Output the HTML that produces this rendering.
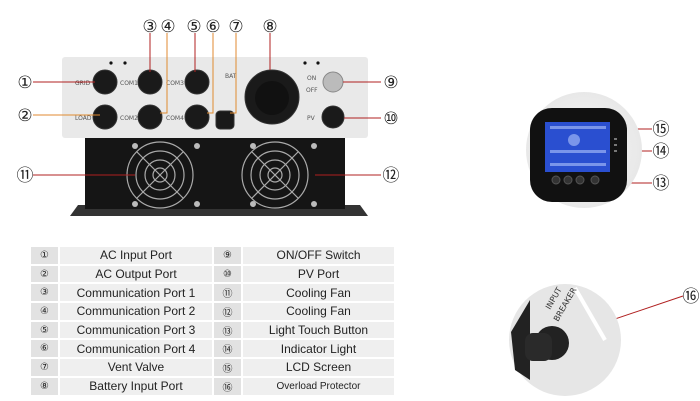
<!DOCTYPE html>
<html><head><meta charset="utf-8"><style>
body{margin:0;background:#fff;width:700px;height:401px;overflow:hidden;font-family:"Liberation Sans","DejaVu Sans",sans-serif}
table{position:absolute;left:29px;top:245px;border-collapse:collapse;font-size:12px;color:#222}
td{border:2px solid #fff;height:16.7px;padding:0;text-align:center;background:#efefef}
td.n{background:#e2e2e2;width:27px;font-size:10px;font-family:"DejaVu Sans",sans-serif}
</style></head><body>
<svg width="700" height="401" style="position:absolute;left:0;top:0" font-family="DejaVu Sans,sans-serif">
<defs><radialGradient id="g1" cx="50%" cy="50%" r="50%"><stop offset="0" stop-color="#f7f7f7"/><stop offset="1" stop-color="#e8e8e8"/></radialGradient></defs>
<polygon points="70,216 368,216 360,205 78,205" fill="#333"/>
<rect x="85" y="137" width="260" height="72" fill="#151515"/>
<rect x="62" y="57" width="306" height="81" rx="3" fill="#e9e9e9"/>
<circle cx="111" cy="63" r="1.6" fill="#111"/><circle cx="125" cy="63" r="1.6" fill="#111"/>
<circle cx="305" cy="63" r="1.6" fill="#111"/><circle cx="318" cy="63" r="1.6" fill="#111"/>
<g fill="#1a1a1a" stroke="#333">
<circle cx="105" cy="82" r="12"/><circle cx="150" cy="82" r="12"/><circle cx="197" cy="82" r="12"/>
<circle cx="105" cy="117" r="12"/><circle cx="150" cy="117" r="12"/><circle cx="197" cy="117" r="12"/>
<circle cx="333" cy="117" r="11"/><rect x="216" y="111" width="18" height="18" rx="4"/>
<circle cx="272" cy="97" r="27"/></g>
<circle cx="272" cy="98" r="17" fill="#111"/>
<circle cx="333" cy="82" r="10" fill="#bbb" stroke="#888"/>
<g font-size="6" fill="#555"><text x="75" y="85">GRID</text><text x="120" y="85">COM1</text><text x="166" y="85">COM3</text>
<text x="75" y="120">LOAD</text><text x="120" y="120">COM2</text><text x="166" y="120">COM4</text><text x="225" y="78">BAT</text>
<text x="307" y="80">ON</text><text x="306" y="92">OFF</text><text x="307" y="120">PV</text></g>
<g stroke="#aaa" fill="none" stroke-width="1.2">
<circle cx="160" cy="175" r="33"/><circle cx="160" cy="175" r="24"/><circle cx="160" cy="175" r="15"/><circle cx="160" cy="175" r="7"/>
<line x1="137" y1="152" x2="183" y2="198"/><line x1="183" y1="152" x2="137" y2="198"/>
<circle cx="275" cy="175" r="33"/><circle cx="275" cy="175" r="24"/><circle cx="275" cy="175" r="15"/><circle cx="275" cy="175" r="7"/>
<line x1="252" y1="152" x2="298" y2="198"/><line x1="298" y1="152" x2="252" y2="198"/></g>
<g fill="#bbb"><circle cx="135" cy="146" r="3"/><circle cx="197" cy="146" r="3"/><circle cx="135" cy="204" r="3"/><circle cx="197" cy="204" r="3"/>
<circle cx="253" cy="146" r="3"/><circle cx="314" cy="146" r="3"/><circle cx="253" cy="204" r="3"/><circle cx="314" cy="204" r="3"/></g>
<g stroke="#b02020" stroke-width="1" fill="none">
<line x1="33" y1="82" x2="95" y2="82"/><line x1="150" y1="33" x2="150" y2="72"/><line x1="195" y1="33" x2="195" y2="72"/>
<line x1="270" y1="33" x2="270" y2="70"/><line x1="381" y1="82" x2="343" y2="82"/><line x1="381" y1="118" x2="344" y2="118"/>
<line x1="33" y1="175" x2="135" y2="175"/><line x1="381" y1="175" x2="315" y2="175"/>
<line x1="652" y1="129" x2="602" y2="129"/><line x1="652" y1="151" x2="616" y2="151"/><line x1="652" y1="183" x2="598" y2="183"/>
<line x1="683" y1="296" x2="550" y2="341"/></g>
<g stroke="#e08a30" stroke-width="1" fill="none">
<polyline points="33,115 100,115"/><polyline points="167,33 167,113 160,113"/><polyline points="213,33 213,113 207,113"/><polyline points="236,33 236,113 230,113"/></g>
<g font-size="17" fill="#222" text-anchor="middle">
<text x="25" y="88">①</text><text x="25" y="121">②</text><text x="150" y="32">③</text><text x="168" y="32">④</text>
<text x="194" y="32">⑤</text><text x="213" y="32">⑥</text><text x="236" y="32">⑦</text><text x="270" y="32">⑧</text>
<text x="391" y="88">⑨</text><text x="391" y="124">⑩</text><text x="25" y="181">⑪</text><text x="391" y="181">⑫</text>
<text x="661" y="135">⑮</text><text x="661" y="157">⑭</text><text x="661" y="189">⑬</text><text x="691" y="302">⑯</text></g>
<circle cx="584" cy="150" r="58" fill="url(#g1)"/>
<rect x="530" y="108" width="97" height="94" rx="22" fill="#111"/>
<rect x="545" y="122" width="65" height="50" fill="#2a4fd0"/>
<g fill="#7a95ea"><rect x="550" y="126" width="56" height="3"/><rect x="550" y="150" width="56" height="3"/><rect x="550" y="163" width="56" height="3"/><circle cx="574" cy="140" r="6"/></g>
<g fill="#333" stroke="#555"><circle cx="556" cy="180" r="4"/><circle cx="568" cy="180" r="4"/><circle cx="580" cy="180" r="4"/><circle cx="595" cy="180" r="4"/></g>
<g fill="#777"><rect x="614" y="138" width="3" height="2"/><rect x="614" y="144" width="3" height="2"/><rect x="614" y="150" width="3" height="2"/></g>
<circle cx="565" cy="340" r="56" fill="#e6e6e6"/>
<path d="M511 332 L530 300 L530 380 L515 370 Z" fill="#222"/>
<line x1="575" y1="288" x2="605" y2="340" stroke="#fff" stroke-width="4"/>
<circle cx="552" cy="343" r="17" fill="#222"/>
<rect x="525" y="333" width="27" height="28" rx="8" fill="#2a2a2a"/>
<text x="550" y="310" font-size="8" fill="#333" transform="rotate(-60 550 310)">INPUT</text>
<text x="558" y="322" font-size="8" fill="#333" transform="rotate(-60 558 322)">BREAKER</text>
</svg>
<table>
<tr><td class="n">①</td><td style="width:152px">AC Input Port</td><td class="n">⑨</td><td style="width:151px">ON/OFF Switch</td></tr>
<tr><td class="n">②</td><td>AC Output Port</td><td class="n">⑩</td><td>PV Port</td></tr>
<tr><td class="n">③</td><td>Communication Port 1</td><td class="n">⑪</td><td>Cooling Fan</td></tr>
<tr><td class="n">④</td><td>Communication Port 2</td><td class="n">⑫</td><td>Cooling Fan</td></tr>
<tr><td class="n">⑤</td><td>Communication Port 3</td><td class="n">⑬</td><td>Light Touch Button</td></tr>
<tr><td class="n">⑥</td><td>Communication Port 4</td><td class="n">⑭</td><td>Indicator Light</td></tr>
<tr><td class="n">⑦</td><td>Vent Valve</td><td class="n">⑮</td><td>LCD Screen</td></tr>
<tr><td class="n">⑧</td><td>Battery Input Port</td><td class="n">⑯</td><td style="font-size:10px">Overload Protector</td></tr>
</table>
</body></html>
